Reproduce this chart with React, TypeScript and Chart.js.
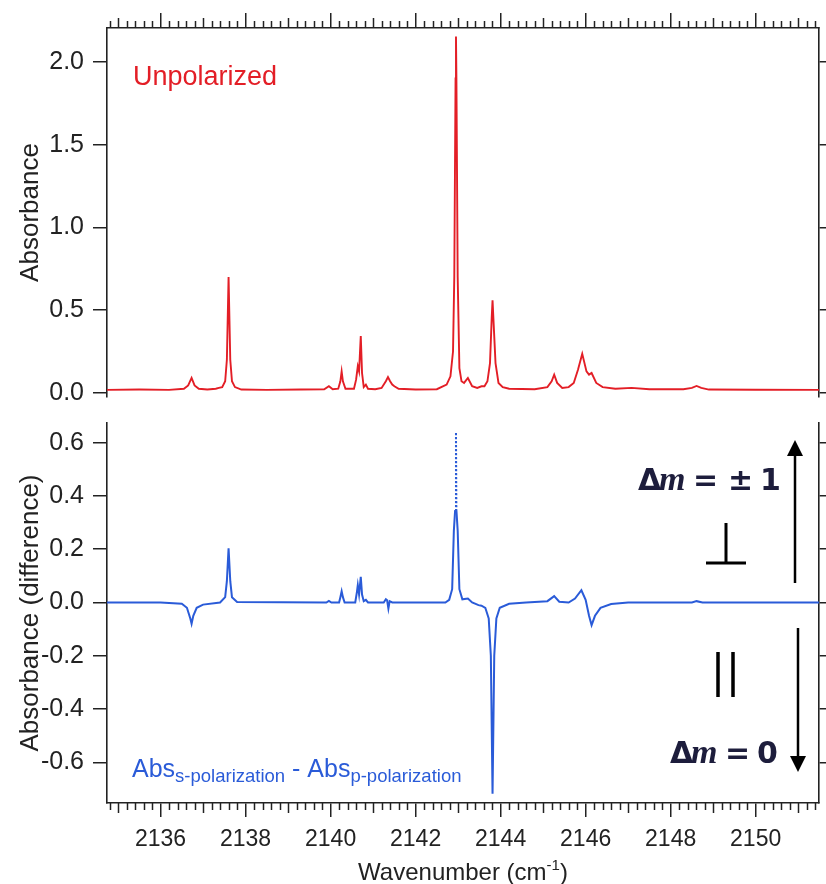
import React, { useEffect, useRef } from "react";
import { Chart, registerables } from "chart.js";
Chart.register(...registerables);

// ---------- data ----------
const X_MIN = 2134.74;
const X_MAX = 2151.49;
const xMajorTicks = [2136, 2138, 2140, 2142, 2144, 2146, 2148, 2150];
const topYTicks = [0, 0.5, 1.0, 1.5, 2.0];
const bottomYTicks = [-0.6, -0.4, -0.2, 0, 0.2, 0.4, 0.6];

const unpolWn = [
  2134.74, 2135.5, 2136.2, 2136.55, 2136.65, 2136.73, 2136.8, 2136.9, 2137.1, 2137.3,
  2137.37, 2137.45, 2137.52, 2137.56, 2137.6, 2137.64, 2137.68, 2137.75, 2137.9, 2138.5,
  2139.3, 2139.85, 2139.96, 2140.05, 2140.18, 2140.23, 2140.26, 2140.29, 2140.35, 2140.55,
  2140.6, 2140.64, 2140.67, 2140.71, 2140.74, 2140.78, 2140.83, 2140.88, 2141.05, 2141.2,
  2141.3, 2141.35, 2141.4, 2141.45, 2141.5, 2141.6, 2142.0, 2142.5, 2142.73, 2142.82,
  2142.88, 2142.91, 2142.94, 2142.95, 2142.96, 2142.99, 2143.03, 2143.08, 2143.14, 2143.23,
  2143.33, 2143.45, 2143.55, 2143.62, 2143.69, 2143.75, 2143.79, 2143.81, 2143.83, 2143.88,
  2143.95, 2144.05, 2144.2, 2144.8, 2145.1, 2145.2, 2145.26, 2145.33, 2145.45, 2145.6,
  2145.72, 2145.82, 2145.92, 2146.02, 2146.08, 2146.14, 2146.25, 2146.4, 2146.7, 2147.08,
  2147.5, 2148.3, 2148.5, 2148.61, 2148.72, 2148.9, 2150.0, 2151.49,
];
const unpolAbs = [
  0.018, 0.02, 0.018, 0.025, 0.045, 0.09, 0.045, 0.025, 0.02, 0.025,
  0.03, 0.035, 0.07, 0.2, 0.7, 0.2, 0.07, 0.035, 0.02, 0.018,
  0.02, 0.022, 0.04, 0.022, 0.025, 0.07, 0.13, 0.07, 0.025, 0.025,
  0.08, 0.16, 0.13, 0.344, 0.12, 0.035, 0.05, 0.025, 0.022, 0.03,
  0.07, 0.095, 0.07, 0.05, 0.04, 0.025, 0.02, 0.022, 0.05, 0.1,
  0.25, 0.7, 1.9, 2.153, 1.9, 0.7, 0.15, 0.07, 0.06, 0.09,
  0.04, 0.03, 0.04, 0.04, 0.07, 0.18, 0.45, 0.56, 0.45, 0.18,
  0.06, 0.035, 0.025, 0.022, 0.035, 0.07, 0.11, 0.06, 0.03, 0.035,
  0.06, 0.14, 0.236, 0.13, 0.11, 0.12, 0.06, 0.035, 0.025, 0.03,
  0.022, 0.022, 0.03, 0.042, 0.03, 0.02, 0.019, 0.018,
];

const diffWn = [
  2134.74, 2136.0, 2136.5, 2136.62, 2136.7, 2136.73, 2136.77, 2136.85, 2137.0, 2137.4,
  2137.52, 2137.56, 2137.6, 2137.64, 2137.68, 2137.8, 2139.9, 2139.96, 2140.02, 2140.2,
  2140.23, 2140.26, 2140.29, 2140.33, 2140.58, 2140.62, 2140.64, 2140.67, 2140.71, 2140.74,
  2140.78, 2140.83, 2140.88, 2141.25, 2141.3, 2141.33, 2141.36, 2141.39, 2141.45, 2142.7,
  2142.79, 2142.86, 2142.9, 2142.93, 2142.95, 2142.96, 2142.99, 2143.03, 2143.1, 2143.23,
  2143.33, 2143.48, 2143.55, 2143.64, 2143.72, 2143.77, 2143.81, 2143.85, 2143.9, 2143.98,
  2144.2, 2144.6, 2145.1, 2145.26, 2145.38, 2145.6, 2145.75, 2145.9, 2146.0, 2146.08,
  2146.14, 2146.22, 2146.35, 2146.6, 2147.0, 2148.5, 2148.61, 2148.75, 2151.49,
];
const diffAbs = [
  0.0, 0.0, -0.005, -0.02, -0.06, -0.08, -0.05, -0.02, -0.008, 0.0,
  0.02, 0.08, 0.203, 0.08, 0.02, 0.002, 0.0, 0.006, 0.0, 0.0,
  0.02, 0.042, 0.02, 0.0, 0.0, 0.04, 0.065, 0.03, 0.096, 0.03,
  0.005, 0.01, 0.0, 0.0, 0.012, 0.008, -0.023, 0.005, 0.0, 0.0,
  0.01, 0.05, 0.27, 0.347, 0.64, 0.347, 0.27, 0.05, 0.012, 0.015,
  0.0, -0.01, -0.012, -0.02, -0.06, -0.2, -0.718, -0.2, -0.06, -0.02,
  -0.005, 0.0, 0.005, 0.024, 0.003, 0.0, 0.015, 0.046, 0.01, -0.05,
  -0.085, -0.05, -0.02, -0.006, 0.0, 0.0, 0.005, 0.0, 0.0,
];

// ---------- styles ----------
const FONT = '"Liberation Sans", Arial, Helvetica, sans-serif';
const RED = "#e31e26";
const BLUE = "#2a5bd8";
const AXIS = "#222222";
const NAVY = "#1d1d3c";

function drawMinorXTicks(chart: any, side: "top" | "bottom") {
  const ctx = chart.ctx;
  const sx = chart.scales.x;
  const ca = chart.chartArea;
  const y0 = side === "top" ? ca.top : ca.bottom;
  const dir = side === "top" ? -1 : 1;
  ctx.save();
  ctx.strokeStyle = AXIS;
  ctx.lineWidth = 1.5;
  for (let k = Math.ceil(X_MIN * 5); k <= Math.floor(X_MAX * 5); k++) {
    if (k % 10 === 0) continue;
    const len = k % 5 === 0 ? 10 : 7;
    const px = Math.round(sx.getPixelForValue(k / 5)) + 0.5;
    ctx.beginPath();
    ctx.moveTo(px, y0);
    ctx.lineTo(px, y0 + dir * len);
    ctx.stroke();
  }
  ctx.restore();
}

type Run = { text: string; size: number; dy?: number; weight?: string; style?: string; family?: string };
function drawRuns(ctx: CanvasRenderingContext2D, runs: Run[], x: number, y: number, color: string) {
  ctx.save();
  ctx.fillStyle = color;
  ctx.textAlign = "left";
  ctx.textBaseline = "alphabetic";
  let cx = x;
  for (const r of runs) {
    ctx.font = `${r.style || "normal"} ${r.weight || "normal"} ${r.size}px ${r.family || FONT}`;
    ctx.fillText(r.text, cx, y + (r.dy || 0));
    cx += ctx.measureText(r.text).width;
  }
  ctx.restore();
}
function runsWidth(ctx: CanvasRenderingContext2D, runs: Run[]) {
  let w = 0;
  ctx.save();
  for (const r of runs) {
    ctx.font = `${r.style || "normal"} ${r.weight || "normal"} ${r.size}px ${r.family || FONT}`;
    w += ctx.measureText(r.text).width;
  }
  ctx.restore();
  return w;
}

const topPlugin = {
  id: "topDecor",
  afterDraw(chart: any) {
    drawMinorXTicks(chart, "top");
    drawRuns(chart.ctx, [{ text: "Unpolarized", size: 27 }], 133, 85, RED);
  },
};

const DSB = '"DejaVu Sans", Verdana, sans-serif';
const SERIF = '"Liberation Serif", "Times New Roman", serif';

const bottomPlugin = {
  id: "bottomDecor",
  afterDraw(chart: any) {
    const ctx: CanvasRenderingContext2D = chart.ctx;
    const ca = chart.chartArea;
    drawMinorXTicks(chart, "bottom");

    // x axis title with superscript
    const titleRuns: Run[] = [
      { text: "Wavenumber (cm", size: 24 },
      { text: "-1", size: 15, dy: -10 },
      { text: ")", size: 24 },
    ];
    const tw = runsWidth(ctx, titleRuns);
    drawRuns(ctx, titleRuns, (ca.left + ca.right) / 2 - tw / 2, 470, AXIS);

    // difference label
    drawRuns(
      ctx,
      [
        { text: "Abs", size: 25 },
        { text: "s-polarization", size: 18.5, dy: 5 },
        { text: " - Abs", size: 25 },
        { text: "p-polarization", size: 18.5, dy: 5 },
      ],
      132,
      367,
      BLUE
    );

    // annotations (canvas coordinates)
    ctx.save();
    ctx.fillStyle = NAVY;
    ctx.textBaseline = "alphabetic";
    ctx.textAlign = "left";
    const big = 30;
    const line1 = 80;
    ctx.font = `bold ${big}px ${DSB}`;
    ctx.fillText("\u0394", 638, line1);
    ctx.font = `italic bold ${big + 4}px ${SERIF}`;
    ctx.fillText("m", 659, line1);
    ctx.font = `bold ${big}px ${DSB}`;
    ctx.fillText("=", 693, line1);
    ctx.fillText("\u00b1", 728, line1);
    ctx.fillText("1", 760, line1);

    const line2 = 353;
    ctx.font = `bold ${big}px ${DSB}`;
    ctx.fillText("\u0394", 670, line2);
    ctx.font = `italic bold ${big + 4}px ${SERIF}`;
    ctx.fillText("m", 691, line2);
    ctx.font = `bold ${big}px ${DSB}`;
    ctx.fillText("=", 725, line2);
    ctx.fillText("0", 757, line2);
    ctx.restore();

    // perpendicular and parallel symbols, arrows
    ctx.save();
    ctx.strokeStyle = "#000";
    ctx.fillStyle = "#000";
    ctx.lineWidth = 3;
    ctx.beginPath();
    ctx.moveTo(726, 113);
    ctx.lineTo(726, 153);
    ctx.moveTo(706, 153);
    ctx.lineTo(746, 153);
    ctx.stroke();
    ctx.lineWidth = 3.5;
    ctx.beginPath();
    ctx.moveTo(718, 242);
    ctx.lineTo(718, 287);
    ctx.moveTo(733, 242);
    ctx.lineTo(733, 287);
    ctx.stroke();

    ctx.lineWidth = 2.5;
    // up arrow
    ctx.beginPath();
    ctx.moveTo(795, 173);
    ctx.lineTo(795, 44);
    ctx.stroke();
    ctx.beginPath();
    ctx.moveTo(795, 30);
    ctx.lineTo(787, 46);
    ctx.lineTo(803, 46);
    ctx.closePath();
    ctx.fill();
    // down arrow
    ctx.beginPath();
    ctx.moveTo(798, 218);
    ctx.lineTo(798, 348);
    ctx.stroke();
    ctx.beginPath();
    ctx.moveTo(798, 362);
    ctx.lineTo(790, 346);
    ctx.lineTo(806, 346);
    ctx.closePath();
    ctx.fill();
    ctx.restore();
  },
};

function setTicks(values: number[]) {
  return (scale: any) => {
    scale.ticks = values.map((v) => ({ value: v }));
  };
}

function noPad(size: { width?: number; height?: number }) {
  return (s: any) => {
    if (size.width !== undefined) s.width = size.width;
    if (size.height !== undefined) s.height = size.height;
    s.paddingTop = 0;
    s.paddingBottom = 0;
    s.paddingLeft = 0;
    s.paddingRight = 0;
  };
}

function yAxes(min: number, max: number, ticks: number[], title: string) {
  return {
    y: {
      type: "linear",
      position: "left",
      min,
      max,
      afterBuildTicks: setTicks(ticks),
      afterFit: noPad({ width: 107 }),
      grid: { display: true, drawOnChartArea: false, drawTicks: true, tickLength: 14, color: AXIS, lineWidth: 1.5 },
      border: { display: true, color: AXIS, width: 1.6 },
      ticks: {
        color: AXIS,
        padding: 9,
        font: { family: FONT, size: 25 },
        callback: (v: any) => Number(v).toFixed(1),
      },
      title: {
        display: true,
        text: title,
        color: AXIS,
        font: { family: FONT, size: 26 },
        padding: { top: 15, bottom: 0 },
      },
    },
    yr: {
      type: "linear",
      position: "right",
      min,
      max,
      afterBuildTicks: setTicks(ticks),
      afterFit: noPad({ width: 7 }),
      grid: { display: true, drawOnChartArea: false, drawTicks: true, tickLength: 14, color: AXIS, lineWidth: 1.5 },
      border: { display: true, color: AXIS, width: 1.6 },
      ticks: { display: false },
    },
  };
}

function makePoints(xs: number[], ys: number[]) {
  return xs.map((x, i) => ({ x, y: ys[i] }));
}

export default function App() {
  const topRef = useRef<HTMLCanvasElement>(null);
  const botRef = useRef<HTMLCanvasElement>(null);

  useEffect(() => {
    const c1 = new Chart(topRef.current as HTMLCanvasElement, {
      type: "scatter",
      data: {
        datasets: [
          {
            label: "Unpolarized",
            data: makePoints(unpolWn, unpolAbs),
            showLine: true,
            borderColor: RED,
            borderWidth: 1.9,
            pointRadius: 0,
            tension: 0,
          },
        ],
      },
      options: {
        responsive: false,
        animation: false,
        devicePixelRatio: 1,
        layout: { padding: { top: 0, bottom: 13, left: 0, right: 0 } },
        plugins: { legend: { display: false }, tooltip: { enabled: false } },
        scales: {
          x: {
            type: "linear",
            position: "top",
            min: X_MIN,
            max: X_MAX,
            afterBuildTicks: setTicks(xMajorTicks),
            afterFit: noPad({ height: 28 }),
            grid: { display: true, drawOnChartArea: false, drawTicks: true, tickLength: 15, color: AXIS, lineWidth: 1.5 },
            border: { display: true, color: AXIS, width: 1.6 },
            ticks: { display: false },
          },
          ...yAxes(-0.025, 2.205, topYTicks, "Absorbance"),
        },
      } as any,
      plugins: [topPlugin],
    });

    const c2 = new Chart(botRef.current as HTMLCanvasElement, {
      type: "scatter",
      data: {
        datasets: [
          {
            label: "Abs s-polarization - Abs p-polarization",
            data: makePoints(diffWn, diffAbs),
            showLine: true,
            borderColor: BLUE,
            borderWidth: 2,
            pointRadius: 0,
            tension: 0,
            segment: {
              borderDash: (c: any) => (c.p0.parsed.y >= 0.34 && c.p1.parsed.y >= 0.34 ? [2, 2] : undefined),
            },
          },
        ],
      },
      options: {
        responsive: false,
        animation: false,
        devicePixelRatio: 1,
        layout: { padding: { top: 13, bottom: 0, left: 0, right: 0 } },
        plugins: { legend: { display: false }, tooltip: { enabled: false } },
        scales: {
          x: {
            type: "linear",
            position: "bottom",
            min: X_MIN,
            max: X_MAX,
            afterBuildTicks: setTicks(xMajorTicks),
            afterFit: noPad({ height: 81 }),
            grid: { display: true, drawOnChartArea: false, drawTicks: true, tickLength: 14, color: AXIS, lineWidth: 1.5 },
            border: { display: true, color: AXIS, width: 1.6 },
            ticks: {
              color: AXIS,
              padding: 9,
              autoSkip: false,
              maxRotation: 0,
              font: { family: FONT, size: 23 },
              callback: (v: any) => String(v),
            },
          },
          ...yAxes(-0.753, 0.674, bottomYTicks, "Absorbance (difference)"),
        },
      } as any,
      plugins: [bottomPlugin],
    });

    return () => {
      c1.destroy();
      c2.destroy();
    };
  }, []);

  return (
    <div style={{ position: "absolute", left: 0, top: 0, width: 826, height: 884, background: "#fff" }}>
      <canvas
        ref={topRef}
        width={826}
        height={410}
        style={{ position: "absolute", left: 0, top: 0, width: 826, height: 410 }}
      />
      <canvas
        ref={botRef}
        width={826}
        height={474}
        style={{ position: "absolute", left: 0, top: 410, width: 826, height: 474 }}
      />
    </div>
  );
}
